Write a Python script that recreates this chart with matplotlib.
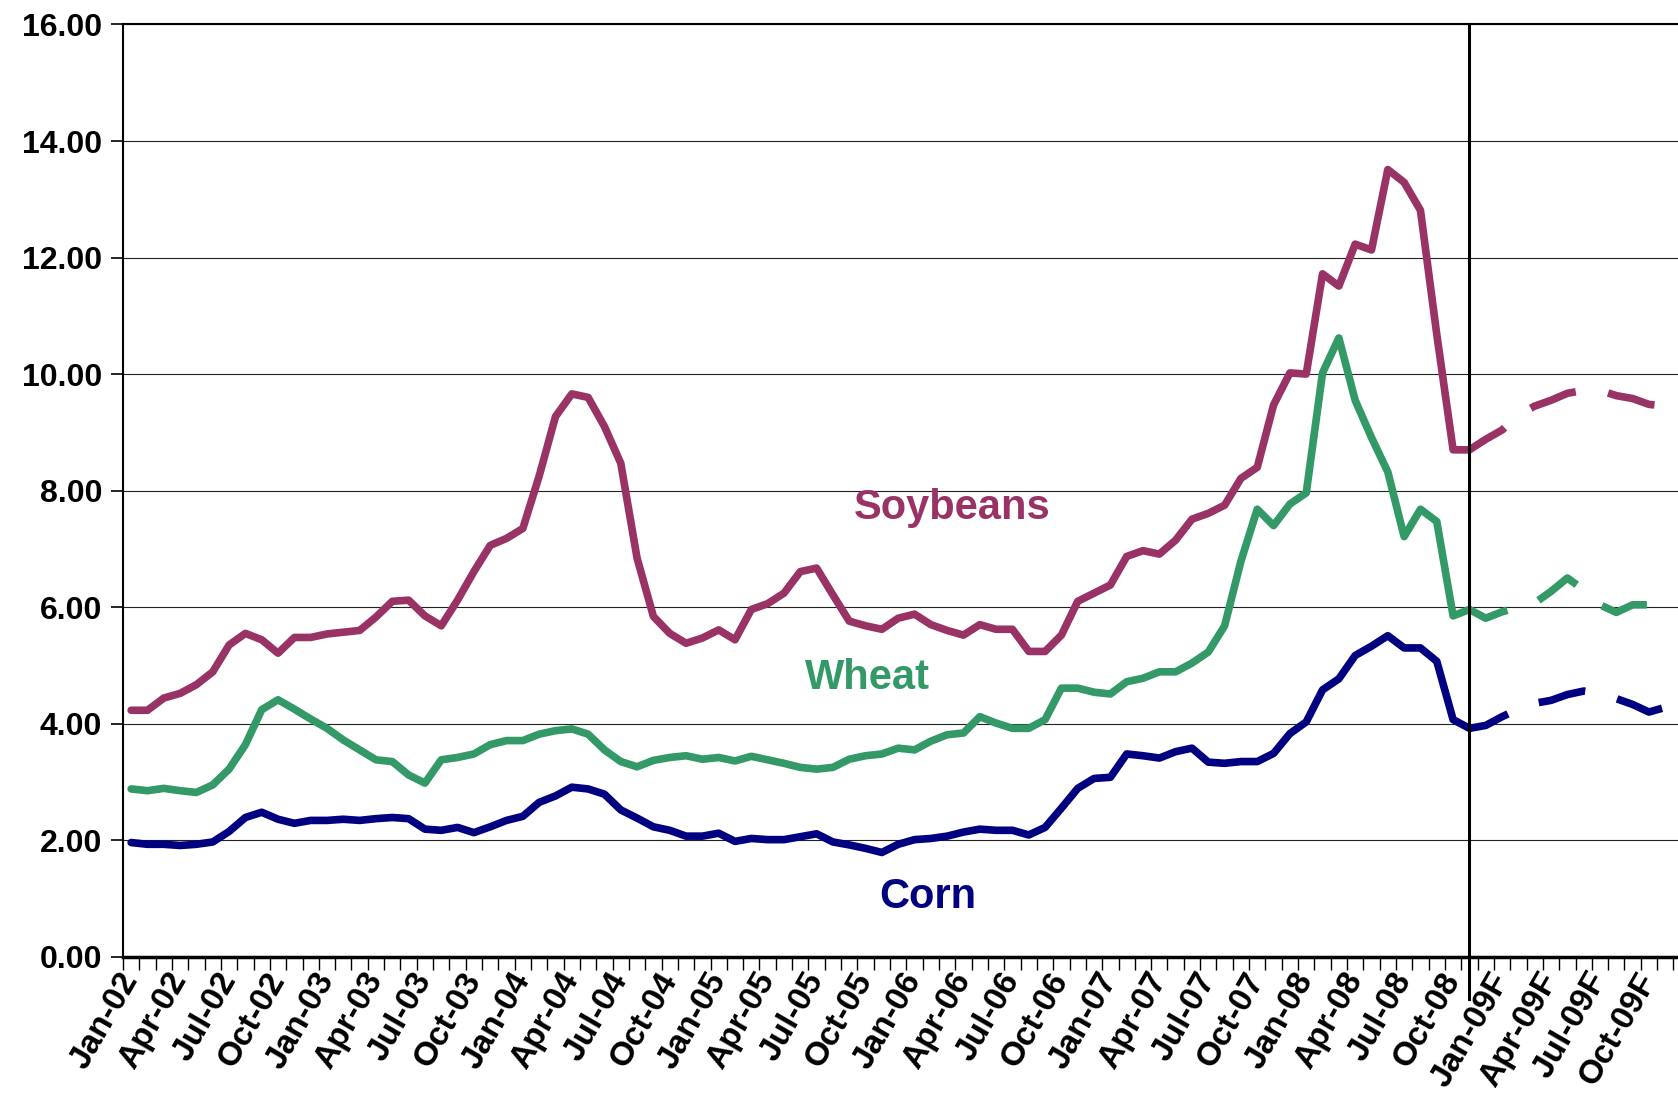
import matplotlib.pyplot as plt

# monthly prices, Jan-02 .. Nov-08 (actual) and Dec-08 .. Dec-09 (forecast)
years = ['02', '03', '04', '05', '06', '07', '08']
months = ['Jan', 'Feb', 'Mar', 'Apr', 'May', 'Jun', 'Jul', 'Aug', 'Sep', 'Oct', 'Nov', 'Dec']

soy_hist = [4.23, 4.23, 4.44, 4.52, 4.67, 4.89, 5.35, 5.55, 5.44, 5.21, 5.48, 5.48,
            5.54, 5.57, 5.60, 5.83, 6.10, 6.12, 5.85, 5.68, 6.12, 6.61, 7.06, 7.18,
            7.35, 8.25, 9.27, 9.66, 9.60, 9.10, 8.47, 6.84, 5.84, 5.55, 5.38, 5.47,
            5.61, 5.44, 5.96, 6.06, 6.24, 6.61, 6.67, 6.21, 5.76, 5.68, 5.62, 5.81,
            5.88, 5.70, 5.60, 5.52, 5.70, 5.62, 5.62, 5.24, 5.24, 5.52, 6.10, 6.24,
            6.38, 6.87, 6.97, 6.91, 7.15, 7.51, 7.61, 7.75, 8.21, 8.40, 9.47, 10.02,
            10.00, 11.72, 11.51, 12.23, 12.13, 13.51, 13.29, 12.81, 10.68, 8.70, 8.70]
wheat_hist = [2.88, 2.85, 2.89, 2.85, 2.82, 2.95, 3.22, 3.64, 4.24, 4.41, 4.25, 4.08,
              3.92, 3.72, 3.55, 3.38, 3.35, 3.12, 2.98, 3.38, 3.42, 3.48, 3.64, 3.71,
              3.71, 3.82, 3.88, 3.91, 3.82, 3.55, 3.35, 3.26, 3.37, 3.42, 3.45, 3.39,
              3.42, 3.36, 3.44, 3.38, 3.32, 3.25, 3.22, 3.25, 3.39, 3.45, 3.48, 3.58,
              3.55, 3.70, 3.81, 3.84, 4.12, 4.01, 3.92, 3.92, 4.07, 4.61, 4.61, 4.54,
              4.51, 4.72, 4.78, 4.89, 4.89, 5.04, 5.23, 5.68, 6.79, 7.68, 7.40, 7.77,
              7.96, 10.02, 10.62, 9.55, 8.91, 8.32, 7.21, 7.68, 7.47, 5.85, 5.96]
corn_hist = [1.96, 1.93, 1.93, 1.91, 1.93, 1.97, 2.15, 2.39, 2.48, 2.36, 2.29, 2.34,
             2.34, 2.36, 2.34, 2.37, 2.39, 2.37, 2.19, 2.17, 2.22, 2.13, 2.23, 2.34,
             2.41, 2.65, 2.76, 2.91, 2.88, 2.79, 2.52, 2.38, 2.23, 2.17, 2.07, 2.07,
             2.12, 1.98, 2.03, 2.01, 2.01, 2.06, 2.11, 1.97, 1.92, 1.86, 1.79, 1.93,
             2.01, 2.03, 2.07, 2.14, 2.19, 2.17, 2.17, 2.09, 2.22, 2.55, 2.89, 3.06,
             3.08, 3.48, 3.45, 3.41, 3.52, 3.58, 3.34, 3.32, 3.35, 3.35, 3.49, 3.83,
             4.03, 4.58, 4.77, 5.17, 5.33, 5.51, 5.30, 5.30, 5.07, 4.07, 3.92]

# Dec-08 .. Dec-09 forecast
soy_fcst = [8.88, 9.04, 9.30, 9.45, 9.55, 9.67, 9.72, 9.72, 9.63, 9.58, 9.48, 9.45, 9.42]
wheat_fcst = [5.81, 5.92, 6.00, 6.07, 6.27, 6.50, 6.30, 6.04, 5.91, 6.04, 6.04, 6.04, 6.04]
corn_fcst = [3.97, 4.12, 4.25, 4.35, 4.40, 4.50, 4.56, 4.52, 4.43, 4.33, 4.20, 4.28, 4.28]

yticks = [0, 2, 4, 6, 8, 10, 12, 14, 16]

# category labels
cats = [m + '-' + y for y in years for m in months] + [m + '-09F' for m in months]

soy_col = '#993366'
wheat_col = '#339966'
corn_col = '#000080'
font = 'Liberation Sans'

fig = plt.figure(figsize=(16.78, 11.02), dpi=100)
ax = fig.add_axes([0.0733, 0.1318, 0.9337, 0.846])

n_hist = len(soy_hist)
x_hist = list(range(n_hist))
x_fcst = list(range(n_hist - 1, n_hist + len(soy_fcst)))

lw = 5.5
dash = (0.85, (6.3, 4.3))
for hist, fcst, col in [(soy_hist, soy_fcst, soy_col),
                        (wheat_hist, wheat_fcst, wheat_col),
                        (corn_hist, corn_fcst, corn_col)]:
    ax.plot(x_hist, hist, color=col, lw=lw, solid_joinstyle='round', solid_capstyle='round', zorder=3)
    ax.plot(x_fcst, [hist[-1]] + fcst, color=col, lw=lw, linestyle=dash,
            dash_capstyle='butt', zorder=3)

# divider between actual and forecast
ax.axvline(n_hist - 1, ymin=-0.045, ymax=1, color='black', lw=2.2, clip_on=False, zorder=4)

ax.text(50.3, 7.70, 'Soybeans', color=soy_col, fontsize=30, fontweight='bold',
        family=font, ha='center', va='center')
ax.text(45.1, 4.78, 'Wheat', color=wheat_col, fontsize=30, fontweight='bold',
        family=font, ha='center', va='center')
ax.text(48.8, 1.03, 'Corn', color=corn_col, fontsize=30, fontweight='bold',
        family=font, ha='center', va='center')

ax.set_xlim(-0.5, len(cats) - 0.5)
ax.set_ylim(0, 16)
ax.set_yticks(yticks)
ax.set_yticklabels(['%.2f' % v for v in yticks], fontsize=23, fontweight='bold', family=font)
ax.grid(axis='y', color='#222222', lw=0.8)
ax.set_axisbelow(True)

pos = list(range(0, len(cats), 3))
ax.set_xticks(pos)
ax.set_xticklabels([cats[p] for p in pos], fontsize=24, fontweight='bold', family=font,
                   rotation=60, ha='right', va='center', rotation_mode='anchor')
ax.set_xticks([p - 0.5 for p in range(len(cats) + 1)], minor=True)
ax.tick_params(axis='x', which='major', length=0, pad=13)
ax.tick_params(axis='x', which='minor', length=9, width=1, direction='out')
ax.tick_params(axis='y', length=9, width=1.2, direction='out', pad=6)

ax.spines['right'].set_visible(False)
ax.spines['top'].set_linewidth(1.5)
ax.spines['left'].set_linewidth(1.5)
ax.spines['bottom'].set_linewidth(2.5)

plt.savefig('out.png', dpi=100)
